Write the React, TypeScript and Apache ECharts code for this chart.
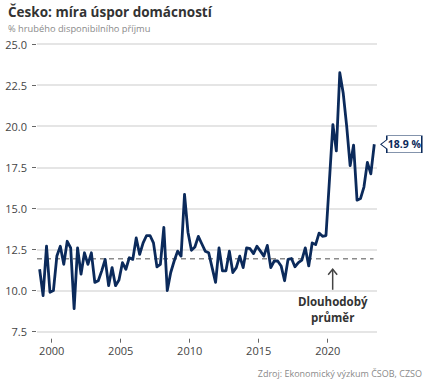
import React, { useEffect, useRef } from "react";
import * as echarts from "echarts";

const startYear = 1999;
const savingsRate: number[] = [
  11.3, 9.7, 12.7, 9.9,
  10.0, 12.1, 12.7, 11.6,
  13.0, 12.6, 8.9, 12.6,
  11.0, 12.3, 11.6, 12.3,
  10.5, 10.6, 11.2, 11.9,
  10.3, 11.4, 10.3, 10.65,
  11.7, 11.3, 12.0, 11.9,
  13.2, 12.2, 12.9, 13.35,
  13.35, 12.9, 11.45, 11.6,
  13.85, 10.0, 11.1, 11.8,
  12.4, 12.1, 15.85, 13.55,
  12.45, 12.65, 13.3, 12.85,
  12.4, 12.3, 11.4, 10.5,
  12.6, 11.2, 11.2, 12.4,
  11.1, 11.4, 12.1, 11.4,
  12.6, 12.55, 12.25, 12.7,
  12.4, 12.1, 12.75, 11.4,
  11.8, 11.8, 11.5, 10.6,
  11.9, 11.95, 11.45, 11.7,
  11.85, 12.6, 11.5, 12.9,
  12.8, 13.5, 13.3, 13.35,
  16.7, 20.1, 18.5, 23.25,
  22.0, 20.0, 17.6, 18.85,
  15.5, 15.6, 16.3, 17.8,
  17.1, 18.9,
];
const longTermAverage = 11.93;
const yTicks = [7.5, 10.0, 12.5, 15.0, 17.5, 20.0, 22.5, 25.0];
const xTickYears = [2000, 2005, 2010, 2015, 2020];
const lastLabel = "18.9 %";

const NAVY = "#0b2a5b";
const FONT = "'Open Sans', 'Noto Sans', sans-serif";

export default function App() {
  const ref = useRef<HTMLDivElement>(null);
  useEffect(() => {
    document.body.style.margin = "0";
    if (!ref.current) return;
    const chart = echarts.init(ref.current, undefined, { renderer: "svg" });
    const pts = savingsRate.map((v, i) => [startYear + 0.125 + i * 0.25, v]);
    const last = pts[pts.length - 1];
    const xMin = 1998.935;
    const xMax = 2023.572;
    const staticGraphics = [
      {
        type: "text",
        x: 8,
        y: 5,
        style: { text: "Česko: míra úspor domácností", fontSize: 13.5, fontWeight: "bold", fill: "#333", fontFamily: FONT },
      },
      {
        type: "text",
        x: 8,
        y: 24,
        style: { text: "% hrubého disponibilního příjmu", fontSize: 9.3, fill: "#8a8a8a", fontFamily: FONT },
      },
      {
        type: "text",
        right: 11,
        top: 369,
        style: { text: "Zdroj: Ekonomický výzkum ČSOB, CZSO", fontSize: 9, fill: "#8a8a8a", fontFamily: FONT },
      },
    ];
    chart.setOption({
      animation: false,
      textStyle: { fontFamily: FONT },
      grid: { left: 37, right: 56, top: 44, bottom: 58.3 },
      xAxis: {
        type: "value",
        min: xMin,
        max: xMax,
        offset: 7,
        axisLine: { show: false },
        splitLine: { show: false },
        axisTick: { show: true, length: 4, customValues: xTickYears, lineStyle: { color: "#666" } },
        axisLabel: {
          customValues: xTickYears,
          margin: 6,
          fontSize: 11,
          color: "#444",
          fontFamily: FONT,
          formatter: (v: number) => String(Math.round(v)),
        },
      },
      yAxis: {
        type: "value",
        min: 7.5,
        max: 25,
        interval: 2.5,
        offset: 1,
        axisLine: { show: false },
        axisTick: { show: true, length: 4, lineStyle: { color: "#666" } },
        splitLine: { show: true, lineStyle: { color: "#dcdcdc", width: 1.5 } },
        axisLabel: {
          margin: 9,
          fontSize: 11,
          color: "#444",
          fontFamily: FONT,
          formatter: (v: number) => (yTicks.includes(v) ? v.toFixed(1) : ""),
        },
      },
      series: [
        {
          type: "line",
          data: [[xMin, longTermAverage], [2023.32, longTermAverage]],
          symbol: "none",
          silent: true,
          lineStyle: { color: "#8a8a8a", width: 1.5, type: [5, 4] },
          z: 1,
        },
        {
          type: "line",
          data: pts,
          symbol: "none",
          lineStyle: { color: NAVY, width: 2.8, join: "round" },
          z: 3,
          markPoint: {
            symbol: "path://M0,8.5 L6,4 L6,0 L41,0 L41,17 L6,17 L6,13 Z",
            symbolSize: [41, 17],
            symbolOffset: [27, 0],
            itemStyle: { color: "#fff", borderColor: NAVY, borderWidth: 1 },
            label: {
              show: true,
              position: "inside",
              offset: [3, 0],
              formatter: lastLabel,
              color: NAVY,
              fontSize: 10.5,
              fontWeight: "bold",
              fontFamily: FONT,
            },
            data: [{ coord: last }],
          },
        },
      ],
      graphic: staticGraphics,
    });
    const top = chart.convertToPixel({ gridIndex: 0 }, [2020.36, 11.3]) as number[];
    const bot = chart.convertToPixel({ gridIndex: 0 }, [2020.36, 10.05]) as number[];
    const ax = top[0];
    chart.setOption({
      graphic: [
        ...staticGraphics,
        {
          type: "line",
          shape: { x1: ax, y1: top[1], x2: ax, y2: bot[1] },
          style: { stroke: "#444", lineWidth: 1.5 },
        },
        {
          type: "polyline",
          shape: { points: [[ax - 4.5, top[1] + 5.5], [ax, top[1]], [ax + 4.5, top[1] + 5.5]] },
          style: { stroke: "#444", lineWidth: 1.5, fill: "none" },
        },
        {
          type: "text",
          x: ax,
          y: bot[1] + 4,
          style: {
            text: "Dlouhodobý\nprůměr",
            align: "center",
            verticalAlign: "top",
            fontSize: 11.5,
            fontWeight: "bold",
            lineHeight: 16,
            fill: "#333",
            fontFamily: FONT,
          },
        },
      ],
    });
    return () => chart.dispose();
  }, []);
  return <div ref={ref} style={{ width: 433, height: 390 }} />;
}
